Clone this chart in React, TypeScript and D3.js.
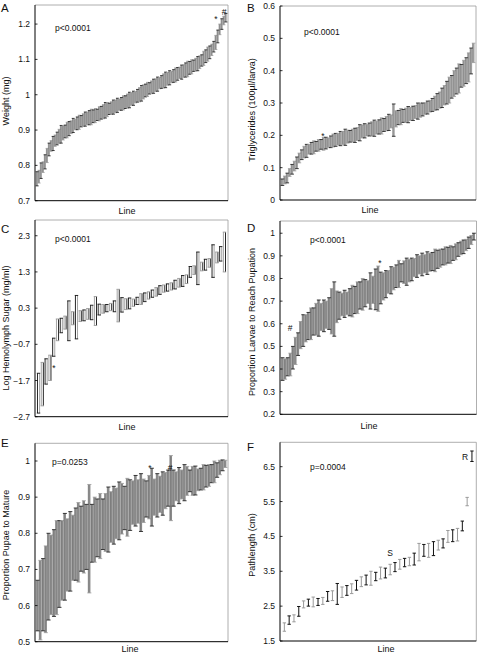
import React from "react";
import * as d3 from "d3";

// ---------- DATA ----------
const weightMean = [
  0.762, 0.768, 0.785, 0.795, 0.81, 0.828, 0.845, 0.855, 0.862, 0.87,
  0.876, 0.882, 0.888, 0.892, 0.896, 0.9, 0.904, 0.908, 0.913, 0.916,
  0.919, 0.922, 0.925, 0.928, 0.931, 0.933, 0.935, 0.937, 0.939, 0.941,
  0.943, 0.946, 0.949, 0.952, 0.956, 0.958, 0.96, 0.962, 0.965, 0.967,
  0.97, 0.972, 0.974, 0.977, 0.979, 0.982, 0.985, 0.988, 0.99, 0.993,
  0.997, 1.0, 1.004, 1.008, 1.012, 1.015, 1.018, 1.021, 1.024, 1.027,
  1.03, 1.033, 1.036, 1.039, 1.042, 1.045, 1.048, 1.05, 1.053, 1.056,
  1.059, 1.062, 1.064, 1.067, 1.07, 1.073, 1.076, 1.079, 1.082, 1.085,
  1.088, 1.092, 1.097, 1.103, 1.109, 1.115, 1.12, 1.127, 1.136, 1.148,
  1.165, 1.185, 1.2, 1.21, 1.218,
];
const weightErr = [
  0.02, 0.018, 0.022, 0.015, 0.02, 0.02, 0.018, 0.015, 0.02, 0.016,
  0.018, 0.02, 0.025, 0.02, 0.018, 0.022, 0.02, 0.018, 0.02, 0.015,
  0.018, 0.02, 0.016, 0.018, 0.02, 0.018, 0.02, 0.022, 0.018, 0.02,
  0.016, 0.02, 0.018, 0.02, 0.022, 0.02, 0.016, 0.018, 0.02, 0.018,
  0.02, 0.016, 0.018, 0.02, 0.018, 0.02, 0.022, 0.018, 0.02, 0.016,
  0.018, 0.02, 0.022, 0.02, 0.018, 0.02, 0.016, 0.018, 0.02, 0.018,
  0.02, 0.016, 0.018, 0.02, 0.022, 0.018, 0.02, 0.016, 0.018, 0.02,
  0.018, 0.016, 0.02, 0.018, 0.02, 0.022, 0.018, 0.02, 0.016, 0.018,
  0.02, 0.018, 0.016, 0.02, 0.018, 0.02, 0.018, 0.016, 0.015, 0.02,
  0.018, 0.015, 0.015, 0.012, 0.012,
];

const trigMean = [
  0.055, 0.062, 0.068, 0.085, 0.095, 0.105, 0.115, 0.13, 0.14, 0.148,
  0.152, 0.157, 0.16, 0.163, 0.166, 0.169, 0.172, 0.174, 0.176, 0.177,
  0.18, 0.184, 0.186, 0.188, 0.19, 0.192, 0.194, 0.196, 0.197, 0.199,
  0.2, 0.204, 0.208, 0.212, 0.214, 0.216, 0.218, 0.22, 0.222, 0.224,
  0.226, 0.229, 0.232, 0.236, 0.24, 0.243, 0.247, 0.251, 0.255, 0.258,
  0.26, 0.262, 0.264, 0.266, 0.268, 0.272, 0.275, 0.278, 0.28, 0.283,
  0.286, 0.29, 0.294, 0.299, 0.304, 0.309, 0.316, 0.324, 0.332, 0.34,
  0.35, 0.36, 0.368, 0.376, 0.384, 0.392, 0.4, 0.41, 0.43, 0.455,
];
const trigErr = [
  0.01, 0.012, 0.015, 0.012, 0.015, 0.015, 0.018, 0.015, 0.015, 0.018,
  0.02, 0.015, 0.018, 0.02, 0.015, 0.018, 0.015, 0.02, 0.018, 0.015,
  0.018, 0.02, 0.02, 0.018, 0.022, 0.02, 0.025, 0.02, 0.018, 0.02,
  0.022, 0.02, 0.025, 0.02, 0.022, 0.018, 0.02, 0.022, 0.025, 0.02,
  0.022, 0.025, 0.02, 0.022, 0.025, 0.02, 0.05, 0.025, 0.022, 0.025,
  0.02, 0.022, 0.025, 0.02, 0.022, 0.02, 0.025, 0.022, 0.02, 0.018,
  0.02, 0.018, 0.02, 0.022, 0.025, 0.025, 0.03, 0.03, 0.035, 0.04,
  0.035, 0.04, 0.04, 0.045, 0.035, 0.04, 0.04, 0.045, 0.04, 0.03,
];

const sugarMean = [
  -2.05, -1.8, -1.45, -1.35, -0.78, -0.3, -0.18, -0.1, -0.05, 0.02,
  0.05, 0.08, 0.1, 0.14, 0.18, 0.22, 0.26, 0.28, 0.3, 0.33,
  0.35, 0.37, 0.39, 0.41, 0.43, 0.45, 0.5, 0.55, 0.6, 0.65,
  0.7, 0.75, 0.8, 0.84, 0.87, 0.9, 0.95, 1.0, 1.05, 1.1,
  1.3, 1.35, 1.4, 1.45, 1.5, 1.55, 1.6, 1.7, 1.8, 1.85,
];
const sugarErr = [
  0.55, 0.6, 0.35, 0.35, 0.25, 0.3, 0.2, 0.18, 0.55, 0.18,
  0.6, 0.15, 0.15, 0.15, 0.2, 0.4, 0.15, 0.12, 0.1, 0.1,
  0.15, 0.45, 0.2, 0.15, 0.15, 0.1, 0.1, 0.15, 0.12, 0.1,
  0.1, 0.12, 0.12, 0.1, 0.1, 0.1, 0.12, 0.12, 0.15, 0.12,
  0.15, 0.12, 0.45, 0.12, 0.15, 0.12, 0.45, 0.15, 0.2, 0.55,
];

const pupationMean = [
  0.4, 0.4, 0.41, 0.42, 0.45, 0.48, 0.51, 0.55, 0.57, 0.58,
  0.59, 0.6, 0.61, 0.62, 0.625, 0.63, 0.635, 0.64, 0.645, 0.655,
  0.665, 0.675, 0.68, 0.685, 0.688, 0.69, 0.695, 0.7, 0.705, 0.715,
  0.725, 0.73, 0.735, 0.74, 0.745, 0.75, 0.752, 0.755, 0.758, 0.765,
  0.775, 0.785, 0.792, 0.8, 0.81, 0.82, 0.825, 0.828, 0.83, 0.835,
  0.84, 0.848, 0.855, 0.86, 0.862, 0.865, 0.868, 0.872, 0.875, 0.88,
  0.885, 0.89, 0.895, 0.9, 0.903, 0.906, 0.91, 0.918, 0.928, 0.935,
  0.94, 0.948, 0.958, 0.97, 0.985,
];
const pupationErr = [
  0.05, 0.045, 0.04, 0.05, 0.05, 0.06, 0.05, 0.06, 0.07, 0.06,
  0.06, 0.07, 0.06, 0.07, 0.08, 0.06, 0.07, 0.06, 0.07, 0.1,
  0.12, 0.07, 0.06, 0.05, 0.06, 0.05, 0.06, 0.07, 0.06, 0.07,
  0.06, 0.07, 0.06, 0.05, 0.08, 0.06, 0.09, 0.1, 0.07, 0.06,
  0.06, 0.05, 0.06, 0.05, 0.05, 0.06, 0.04, 0.05, 0.06, 0.05,
  0.05, 0.04, 0.05, 0.04, 0.05, 0.04, 0.05, 0.04, 0.04, 0.05,
  0.04, 0.04, 0.035, 0.04, 0.035, 0.04, 0.03, 0.035, 0.03, 0.03,
  0.03, 0.025, 0.025, 0.02, 0.015,
];

const matureMean = [
  0.6, 0.615, 0.63, 0.645, 0.68, 0.685, 0.69, 0.705, 0.715, 0.725,
  0.735, 0.74, 0.75, 0.76, 0.77, 0.775, 0.785, 0.79, 0.79, 0.785,
  0.8, 0.81, 0.815, 0.82, 0.825, 0.83, 0.838, 0.845, 0.85, 0.855,
  0.862, 0.868, 0.87, 0.872, 0.878, 0.885, 0.89, 0.888, 0.885, 0.89,
  0.895, 0.9, 0.9, 0.9, 0.905, 0.908, 0.91, 0.918, 0.925, 0.925,
  0.925, 0.93, 0.932, 0.935, 0.94, 0.945, 0.945, 0.945, 0.946, 0.948,
  0.95, 0.955, 0.958, 0.96, 0.965, 0.97, 0.975, 0.982, 0.988, 0.992,
];
const matureErr = [
  0.07, 0.11, 0.1, 0.12, 0.12, 0.11, 0.12, 0.13, 0.12, 0.11,
  0.12, 0.1, 0.11, 0.09, 0.1, 0.11, 0.09, 0.1, 0.09, 0.15,
  0.08, 0.09, 0.08, 0.09, 0.07, 0.08, 0.09, 0.07, 0.08, 0.07,
  0.08, 0.07, 0.06, 0.08, 0.07, 0.06, 0.07, 0.06, 0.08, 0.06,
  0.05, 0.06, 0.08, 0.05, 0.06, 0.05, 0.06, 0.05, 0.05, 0.09,
  0.05, 0.04, 0.05, 0.04, 0.05, 0.04, 0.03, 0.04, 0.04, 0.03,
  0.03, 0.035, 0.03, 0.03, 0.025, 0.03, 0.02, 0.02, 0.015, 0.01,
];

const pathMean = [
  1.9, 2.1, 2.15, 2.35, 2.55, 2.6, 2.62, 2.62, 2.65, 2.78,
  2.8, 2.85, 2.9, 2.95, 3.0, 3.1, 3.2, 3.25, 3.3, 3.35,
  3.45, 3.45, 3.55, 3.62, 3.7, 3.75, 3.78, 3.85, 4.05, 4.1,
  4.1, 4.15, 4.25, 4.3, 4.5, 4.52, 4.55, 4.8, 5.5, 6.8,
];
const pathErr = [
  0.12, 0.12, 0.1, 0.14, 0.1, 0.1, 0.14, 0.1, 0.1, 0.14,
  0.14, 0.3, 0.15, 0.14, 0.14, 0.14, 0.14, 0.14, 0.2, 0.12,
  0.17, 0.14, 0.15, 0.13, 0.14, 0.12, 0.12, 0.17, 0.25, 0.17,
  0.2, 0.2, 0.14, 0.13, 0.17, 0.17, 0.18, 0.14, 0.12, 0.15,
];

const ticksA = [0.7, 0.8, 0.9, 1.0, 1.1, 1.2];
const ticksB = [0, 0.1, 0.2, 0.3, 0.4, 0.5, 0.6];
const ticksC = [-2.7, -1.7, -0.7, 0.3, 1.3, 2.3];
const ticksD = [0.2, 0.3, 0.4, 0.5, 0.6, 0.7, 0.8, 0.9, 1.0];
const ticksE = [0.5, 0.6, 0.7, 0.8, 0.9, 1.0];
const ticksF = [1.5, 2.5, 3.5, 4.5, 5.5, 6.5];

// ---------- LAYOUT ----------
const FONT = "'Liberation Sans', Arial, Helvetica, sans-serif";

type Style = "dense" | "box" | "plain";
type Note = { t: string; x: number; y: number };
type Cfg = {
  letter: string;
  lx: number;
  ly: number;
  x0: number;
  x1: number;
  y0: number;
  y1: number;
  domain: [number, number];
  ticks: number[];
  means: number[];
  errs: number[];
  style: Style;
  fill: string;
  ylabel: string;
  ylx: number;
  yly: number;
  ptext: string;
  px: number;
  py: number;
  linex: number;
  liney: number;
  notes: Note[];
};

const panels: Cfg[] = [
  {
    letter: "A", lx: 1, ly: 12, x0: 35, x1: 228, y0: 5, y1: 200.7,
    domain: [0.7, 1.254], ticks: ticksA, means: weightMean, errs: weightErr,
    style: "dense", fill: "#a0a0a0", ylabel: "Weight (mg)", ylx: 9, yly: 101,
    ptext: "p<0.0001", px: 55, py: 31, linex: 127, liney: 214,
    notes: [{ t: "*", x: 216, y: 22 }, { t: "#", x: 224, y: 15 }],
  },
  {
    letter: "B", lx: 247, ly: 12, x0: 280, x1: 476, y0: 6, y1: 200,
    domain: [0, 0.6], ticks: ticksB, means: trigMean, errs: trigErr,
    style: "dense", fill: "#a0a0a0", ylabel: "Triglycerides  (100µl/larva)", ylx: 255, yly: 110,
    ptext: "p<0.0001", px: 304, py: 35, linex: 370, liney: 213,
    notes: [{ t: "*", x: 323, y: 139 }],
  },
  {
    letter: "C", lx: 1, ly: 233, x0: 35, x1: 228, y0: 220, y1: 416.7,
    domain: [-2.7, 2.735], ticks: ticksC, means: sugarMean, errs: sugarErr,
    style: "box", fill: "#fff", ylabel: "Log Hemolymph Sugar (mg/ml)", ylx: 9, yly: 328,
    ptext: "p<0.0001", px: 55, py: 242, linex: 127, liney: 430,
    notes: [{ t: "*", x: 54, y: 371 }],
  },
  {
    letter: "D", lx: 247, ly: 232, x0: 280, x1: 476.5, y0: 221, y1: 414.3,
    domain: [0.2, 1.054], ticks: ticksD, means: pupationMean, errs: pupationErr,
    style: "dense", fill: "#8a8a8a", ylabel: "Proportion Larvae to Reach Pupation", ylx: 255, yly: 322,
    ptext: "p<0.0001", px: 310, py: 243, linex: 369, liney: 429,
    notes: [{ t: "#", x: 290, y: 331 }, { t: "*", x: 380, y: 266 }],
  },
  {
    letter: "E", lx: 1, ly: 447, x0: 35, x1: 228, y0: 443.3, y1: 641.7,
    domain: [0.5, 1.049], ticks: ticksE, means: matureMean, errs: matureErr,
    style: "dense", fill: "#8a8a8a", ylabel: "Proportion Pupae to Mature", ylx: 9, yly: 545,
    ptext: "p=0.0253", px: 52, py: 465, linex: 130, liney: 652,
    notes: [{ t: "*", x: 150, y: 471 }, { t: "#", x: 170, y: 471 }],
  },
  {
    letter: "F", lx: 247, ly: 451, x0: 280, x1: 476.3, y0: 442.3, y1: 641,
    domain: [1.5, 7.2], ticks: ticksF, means: pathMean, errs: pathErr,
    style: "plain", fill: "none", ylabel: "Pathlength (cm)", ylx: 255, yly: 545,
    ptext: "p=0.0004", px: 310, py: 470, linex: 386, liney: 652,
    notes: [{ t: "S", x: 390, y: 556 }, { t: "R", x: 465, y: 460 }],
  },
];

const fmt = (v: number) => {
  const s = d3.format(".1f")(v);
  return s.endsWith(".0") ? s.slice(0, -2) : s;
};

function Panel({ c }: { c: Cfg }) {
  const y = d3.scaleLinear().domain(c.domain).range([c.y1, c.y0]);
  const idx = d3.range(c.means.length);
  const x = d3
    .scaleBand<number>()
    .domain(idx)
    .range([c.x0 + 0.5, c.x1 - 0.5])
    .paddingInner(0)
    .paddingOuter(0.3);
  const step = x.step();
  const cx = (i: number) => (x(i) as number) + x.bandwidth() / 2;
  const colorOf = (i: number) => (i % 2 === 0 ? "#111" : "#9a9a9a");

  let rectW = 0;
  let capW = 0;
  if (c.style === "dense") {
    rectW = step * 0.8;
    capW = step * 1.5;
  } else if (c.style === "box") {
    rectW = step * 0.55;
    capW = step * 0.9;
  } else {
    rectW = 0;
    capW = step * 0.7;
  }

  const items = idx.map((i) => {
    const m = c.means[i];
    const e = c.errs[i];
    return { i, x: cx(i), hi: y(m + e), lo: y(m - e), mid: y(m) };
  });

  return (
    <g fontFamily={FONT}>
      {/* frame */}
      <line x1={c.x0} x2={c.x1} y1={c.y0} y2={c.y0} stroke="#9a9a9a" strokeWidth={0.8} />
      <line x1={c.x1} x2={c.x1} y1={c.y0} y2={c.y1} stroke="#9a9a9a" strokeWidth={0.8} />
      {/* marks */}
      {c.style === "dense" &&
        items.map((d) => (
          <rect
            key={"r" + d.i}
            x={d.x - rectW / 2}
            y={d.hi}
            width={rectW}
            height={d.lo - d.hi}
            fill={c.fill}
          />
        ))}
      {c.style === "dense" &&
        items.map((d) => (
          <g key={"w" + d.i} stroke={colorOf(d.i)} strokeWidth={0.8}>
            <line x1={d.x - rectW / 2} x2={d.x - rectW / 2} y1={d.hi} y2={d.lo} stroke="#555" strokeWidth={0.5} />
            <line x1={d.x - capW / 2} x2={d.x + capW / 2} y1={d.hi} y2={d.hi} />
            <line x1={d.x - capW / 2} x2={d.x + capW / 2} y1={d.lo} y2={d.lo} />
          </g>
        ))}
      {c.style === "box" &&
        items.map((d) => (
          <g key={"b" + d.i} stroke={colorOf(d.i)} strokeWidth={0.9}>
            <line x1={d.x - rectW / 2} x2={d.x - rectW / 2} y1={d.hi} y2={d.lo} />
            <line x1={d.x + rectW / 2} x2={d.x + rectW / 2} y1={d.hi} y2={d.lo} stroke={colorOf(d.i + 1)} />
            <line x1={d.x - capW / 2} x2={d.x + capW / 2} y1={d.hi} y2={d.hi} />
            <line x1={d.x - capW / 2} x2={d.x + capW / 2} y1={d.lo} y2={d.lo} />
          </g>
        ))}
      {c.style === "plain" &&
        items.map((d) => (
          <g key={"p" + d.i} stroke={colorOf(d.i + 1)} strokeWidth={1}>
            <line x1={d.x} x2={d.x} y1={d.hi} y2={d.lo} />
            <line x1={d.x - capW / 2} x2={d.x + capW / 2} y1={d.hi} y2={d.hi} />
            <line x1={d.x - capW / 2} x2={d.x + capW / 2} y1={d.lo} y2={d.lo} />
          </g>
        ))}
      {/* axes */}
      <line x1={c.x0} x2={c.x0} y1={c.y0} y2={c.y1} stroke="#000" strokeWidth={1} />
      <line x1={c.x0} x2={c.x1} y1={c.y1} y2={c.y1} stroke="#000" strokeWidth={1} />
      {c.ticks.map((t) => (
        <g key={"t" + t}>
          <line x1={c.x0} x2={c.x0 + 2.5} y1={y(t)} y2={y(t)} stroke="#000" strokeWidth={0.8} />
          <text x={c.x0 - 5} y={y(t) + 3} fontSize={8.5} textAnchor="end" fill="#111">
            {fmt(t)}
          </text>
        </g>
      ))}
      {/* labels */}
      <text
        transform={`translate(${c.ylx},${c.yly}) rotate(-90)`}
        fontSize={9}
        textAnchor="middle"
        fill="#111"
      >
        {c.ylabel}
      </text>
      <text x={c.linex} y={c.liney} fontSize={9} textAnchor="middle" fill="#111">
        Line
      </text>
      <text x={c.px} y={c.py} fontSize={8.5} fill="#111">
        {c.ptext}
      </text>
      <text x={c.lx} y={c.ly} fontSize={11.5} fill="#111">
        {c.letter}
      </text>
      {c.notes.map((n, k) => (
        <text key={"n" + k} x={n.x} y={n.y} fontSize={8.5} textAnchor="middle" fill="#111">
          {n.t}
        </text>
      ))}
    </g>
  );
}

export default function App() {
  return (
    <svg
      width={478}
      height={657}
      viewBox="0 0 478 657"
      style={{ position: "absolute", left: 0, top: 0, background: "#fff" }}
    >
      <rect x={0} y={0} width={478} height={657} fill="#fff" />
      {panels.map((c) => (
        <Panel key={c.letter} c={c} />
      ))}
    </svg>
  );
}
